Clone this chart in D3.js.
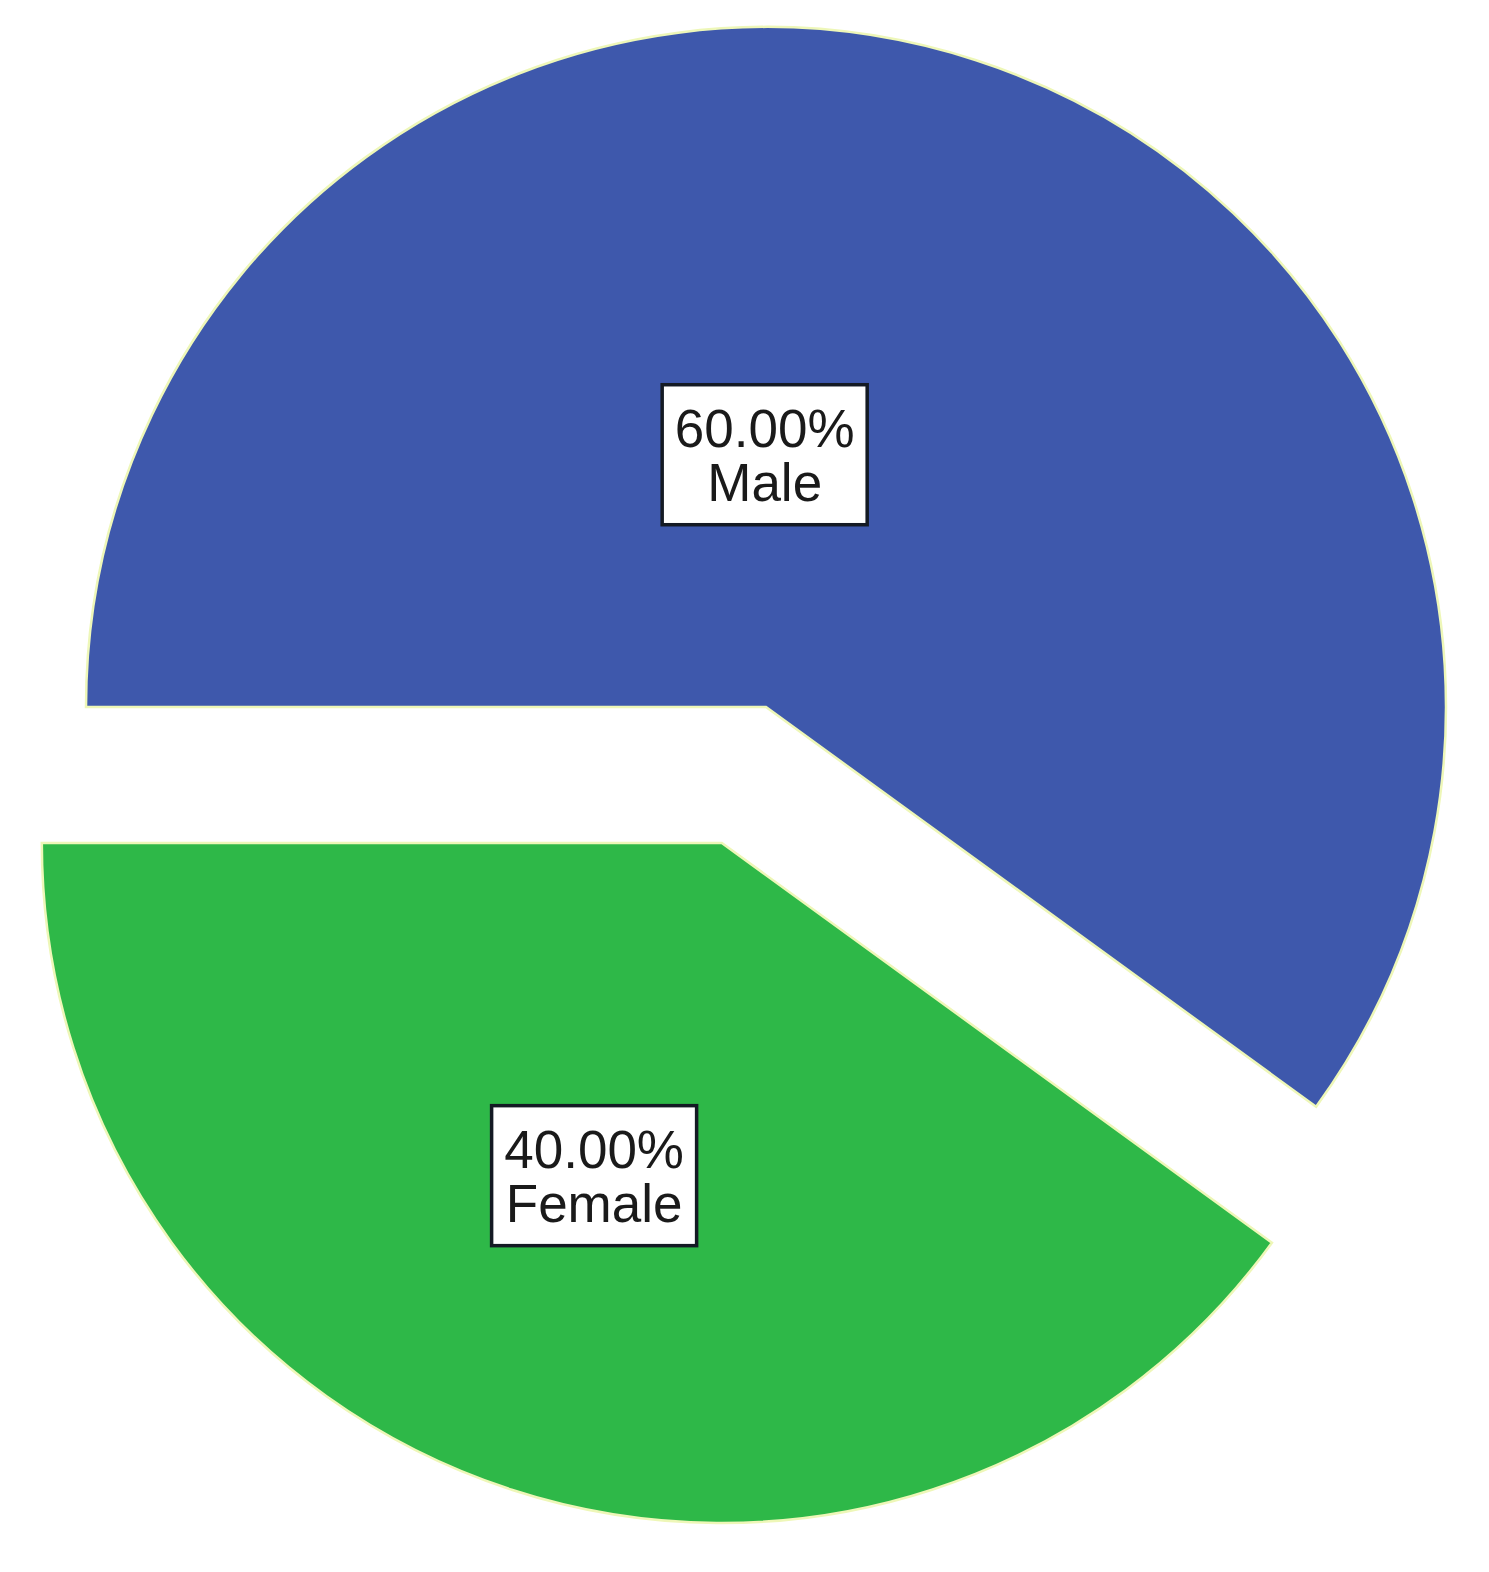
<!DOCTYPE html>
<html>
<head>
<meta charset="utf-8">
<script src="https://cdn.jsdelivr.net/npm/d3@7/dist/d3.min.js"></script>
<style>
  html, body { margin: 0; padding: 0; background: #ffffff; }
  svg { display: block; }
</style>
</head>
<body>
<script>
// ---- data ----
const categories = ["Male", "Female"];
const percentages = [60.0, 40.0];
const sliceColors = ["#3e58ac", "#2eb848"];
const explodedFlags = [false, true];

// ---- layout ----
const W = 1489, H = 1572;
const cx = 766, cy = 707;
const R = 680;
const explodeDist = 143;
// label placement: angle (deg, clockwise from top) & distance as fraction of R
const labelPlacement = [
  { angle: -0.3, dist: 0.371 },
  { angle: 201, dist: 0.524 }
];
const boxW = 205, boxH = 140;

const svg = d3.select("body").append("svg")
  .attr("width", W).attr("height", H);

const data = categories.map((c, i) => ({
  name: c, value: percentages[i], color: sliceColors[i], exploded: explodedFlags[i], idx: i
}));

const pie = d3.pie()
  .value(d => d.value)
  .sort(null)
  .startAngle(-Math.PI / 2)
  .endAngle(-Math.PI / 2 + 2 * Math.PI);

const arcs = pie(data);
const arcGen = d3.arc().innerRadius(0).outerRadius(R);

const g = svg.append("g").attr("transform", `translate(${cx},${cy})`);

const sliceG = g.selectAll("g.slice")
  .data(arcs)
  .join("g")
  .attr("class", "slice")
  .attr("transform", d => {
    if (!d.data.exploded) return null;
    const mid = (d.startAngle + d.endAngle) / 2;
    return `translate(${Math.sin(mid) * explodeDist},${-Math.cos(mid) * explodeDist})`;
  });

sliceG.append("path")
  .attr("d", arcGen)
  .attr("fill", d => d.data.color)
  .attr("stroke", "#eef7b8")
  .attr("stroke-width", 2.5)
  .attr("stroke-linejoin", "miter");

const fmt = d3.format(".2f");

sliceG.each(function(d) {
  const lp = labelPlacement[d.data.idx];
  const a = lp.angle * Math.PI / 180;
  const lx = Math.sin(a) * lp.dist * R;
  const ly = -Math.cos(a) * lp.dist * R;
  const lg = d3.select(this).append("g").attr("transform", `translate(${lx},${ly})`);
  lg.append("rect")
    .attr("x", -boxW / 2).attr("y", -boxH / 2)
    .attr("width", boxW).attr("height", boxH)
    .attr("fill", "#ffffff")
    .attr("stroke", "#141a24")
    .attr("stroke-width", 3.5);
  const t = lg.append("text")
    .attr("text-anchor", "middle")
    .attr("font-family", "'Liberation Sans', Arial, sans-serif")
    .attr("font-size", 53)
    .attr("fill", "#1a1a1a");
  t.append("tspan").attr("x", 0).attr("y", -8).text(fmt(d.data.value) + "%");
  t.append("tspan").attr("x", 0).attr("y", 46).text(d.data.name);
});
</script>
</body>
</html>
